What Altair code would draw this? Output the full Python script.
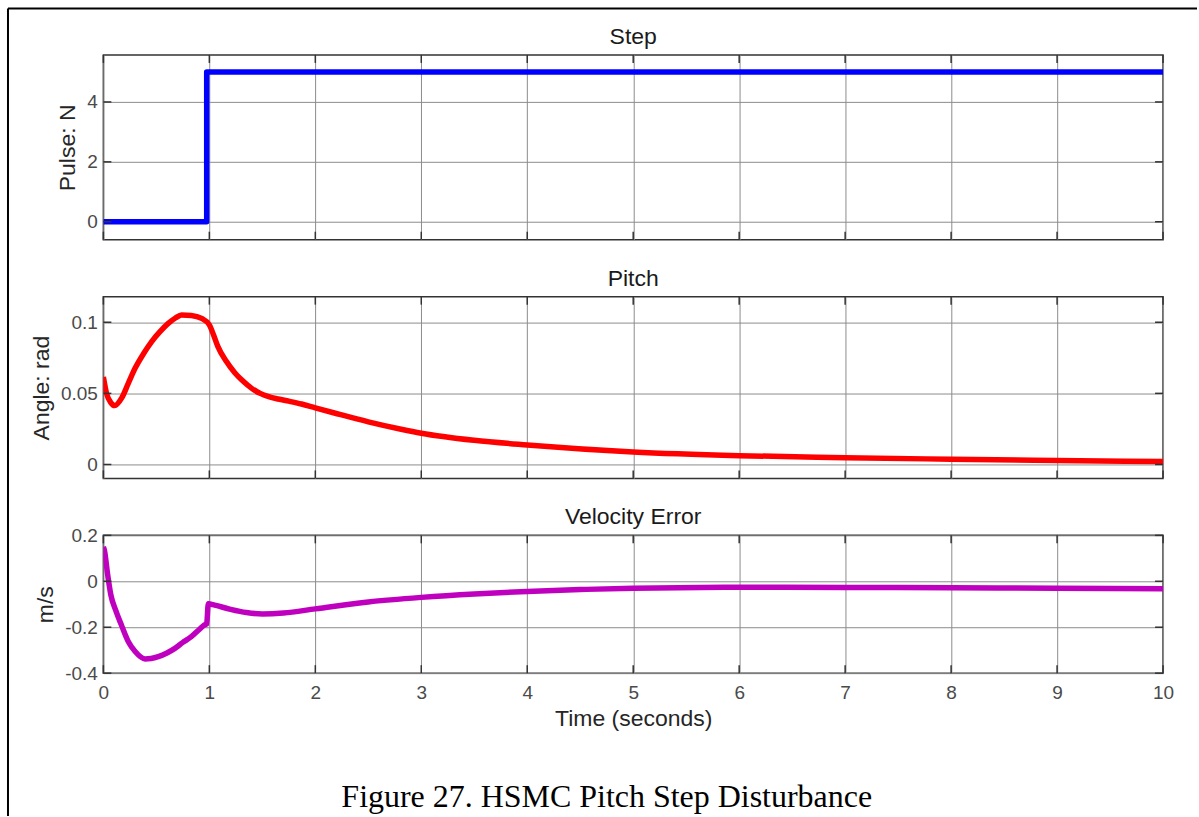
import altair as alt
import pandas as pd

# ---- data -------------------------------------------------------------
T_STEP = [0.0, 0.975, 0.975, 10.0]
PULSE = [0.0, 0.0, 5.0, 5.0]

T_PITCH = [0.0, 0.03, 0.07, 0.107, 0.172, 0.235, 0.299, 0.38, 0.456, 0.53,
           0.612, 0.68, 0.738, 0.83, 0.927, 1.0, 1.04, 1.08, 1.16, 1.24,
           1.32, 1.4, 1.48, 1.56, 1.65, 1.75, 1.87, 2.0, 2.18, 2.5, 2.81,
           3.0, 3.5, 4.0, 5.0, 6.0, 7.0, 8.0, 9.0, 10.0]
ANGLE = [0.0615, 0.050, 0.0435, 0.0414, 0.0466, 0.057, 0.0676, 0.078, 0.0864, 0.093,
         0.0992, 0.103, 0.1051, 0.1048, 0.1027, 0.0981, 0.091, 0.083, 0.0725, 0.0645,
         0.0585, 0.0535, 0.050, 0.0477, 0.046, 0.0445, 0.0425, 0.0398, 0.0362, 0.030, 0.0248,
         0.0220, 0.017, 0.0137, 0.0088, 0.0062, 0.0048, 0.0037, 0.0028, 0.0021]

T_VEL = [0.0, 0.01, 0.04, 0.07, 0.12, 0.17, 0.236, 0.3, 0.393, 0.45, 0.518,
         0.6, 0.675, 0.75, 0.83, 0.9, 0.955, 0.975, 0.99, 1.05, 1.2, 1.35,
         1.5, 1.7, 2.0, 2.5, 3.0, 3.5, 4.0, 4.5, 5.0, 6.0, 7.0, 8.0, 9.0, 10.0]
VEL = [0.15, 0.135, 0.03, -0.058, -0.131, -0.19, -0.263, -0.306, -0.338, -0.336, -0.328,
       -0.312, -0.292, -0.266, -0.241, -0.212, -0.19, -0.185, -0.098, -0.104, -0.122, -0.136,
       -0.142, -0.138, -0.12, -0.09, -0.07, -0.055, -0.044, -0.036, -0.030, -0.026, -0.027,
       -0.028, -0.030, -0.032]

X_TICKS = list(range(11))
PULSE_TICKS = [0, 2, 4]
ANGLE_TICKS = [0, 0.05, 0.1]
VEL_TICKS = [-0.4, -0.2, 0, 0.2]

CAPTION = "Figure 27. HSMC Pitch Step Disturbance"

# ---- layout constants ------------------------------------------------
W = 1061
FONT = "Liberation Sans"
TICK_LEN = 8
TICK_STYLE = dict(color="#333333", strokeWidth=1.5)


def frame(t, v):
    return pd.DataFrame({"i": range(len(t)), "t": t, "v": v})


def x_enc(bottom):
    axis = alt.Axis(
        values=X_TICKS, grid=True, ticks=False, tickSize=0, domain=False,
        labels=bottom, labelFlush=False, labelPadding=10,
        title="Time (seconds)" if bottom else None, titlePadding=5,
    )
    return alt.X("t:Q", scale=alt.Scale(domain=[0, 10], nice=False, zero=False), axis=axis)


def y_enc(domain, ticks, title):
    axis = alt.Axis(
        values=ticks, grid=True, ticks=False, tickSize=0, domain=False,
        labelExpr="'' + datum.value", labelFlush=False, labelPadding=6,
        title=title, titlePadding=7,
    )
    return alt.Y("v:Q", scale=alt.Scale(domain=domain, nice=False, zero=False), axis=axis)


def panel(df, color, domain, yticks, title, ytitle, h, interp, bottom=False, extra=()):
    xe = x_enc(bottom)
    ye = y_enc(domain, yticks, ytitle)
    line = alt.Chart(df).mark_line(
        color=color, strokeWidth=5.5, clip=True, strokeJoin="round", interpolate=interp
    ).encode(x=xe, y=ye, order="i:Q")

    xt = pd.DataFrame({"t": X_TICKS})
    yt = pd.DataFrame({"v": yticks})
    # inward tick marks on all four sides of the box
    bottom_ticks = alt.Chart(xt).mark_rule(**TICK_STYLE).encode(
        x=xe, y=alt.value(h - TICK_LEN), y2=alt.value(h))
    top_ticks = alt.Chart(xt).mark_rule(**TICK_STYLE).encode(
        x=xe, y=alt.value(0), y2=alt.value(TICK_LEN))
    left_ticks = alt.Chart(yt).mark_rule(**TICK_STYLE).encode(
        y=ye, x=alt.value(0), x2=alt.value(TICK_LEN))
    right_ticks = alt.Chart(yt).mark_rule(**TICK_STYLE).encode(
        y=ye, x=alt.value(W - TICK_LEN), x2=alt.value(W))

    # panel heading, centred over the box
    heading = alt.Chart(pd.DataFrame({"title": [title]})).mark_text(
        font=FONT, fontSize=23, color="#1a1a1a", align="center", baseline="alphabetic"
    ).encode(text="title:N", x=alt.value(W / 2), y=alt.value(-11))

    layers = [line, bottom_ticks, top_ticks, left_ticks, right_ticks, heading] + list(extra)
    return alt.layer(*layers).properties(width=W, height=h)


# page border (top and left edges of the figure box)
one = pd.DataFrame({"k": [0]})
border_top = alt.Chart(one).mark_rule(color="black", strokeWidth=2).encode(
    x=alt.value(-95.5), x2=alt.value(1095), y=alt.value(-46.5))
border_left = alt.Chart(one).mark_rule(color="black", strokeWidth=2).encode(
    x=alt.value(-95.5), y=alt.value(-46.5), y2=alt.value(762))

caption = alt.Chart(pd.DataFrame({"caption": [CAPTION]})).mark_text(
    font="Liberation Serif", fontSize=32, color="black", align="center", baseline="alphabetic"
).encode(text="caption:N", x=alt.value(504), y=alt.value(272))

step = panel(frame(T_STEP, PULSE), "#0000ff", [-0.6, 5.57], PULSE_TICKS,
             "Step", "Pulse: N", 185, "linear", extra=[border_top, border_left])
pitch = panel(frame(T_PITCH, ANGLE), "#ff0000", [-0.0098, 0.118], ANGLE_TICKS,
              "Pitch", "Angle: rad", 182, "monotone")
vel = panel(frame(T_VEL, VEL), "#bf00bf", [-0.4, 0.2], VEL_TICKS,
            "Velocity Error", "m/s", 138, "monotone", bottom=True, extra=[caption])

chart = alt.vconcat(step, pitch, vel, spacing=57, bounds="flush").properties(
    padding={"left": 5.5, "top": 5.5, "right": 0, "bottom": 0},
    background="white",
).configure_view(
    stroke="#333333", strokeWidth=1.5
).configure_axis(
    labelFont=FONT, labelFontSize=19, labelColor="#4a4a4a",
    titleFont=FONT, titleFontSize=23, titleColor="#262626", titleFontWeight="normal",
    gridColor="#8c8c8c", gridWidth=1, gridOpacity=1,
)

chart.save("out.html", embed_options={"renderer": "svg", "actions": False})
